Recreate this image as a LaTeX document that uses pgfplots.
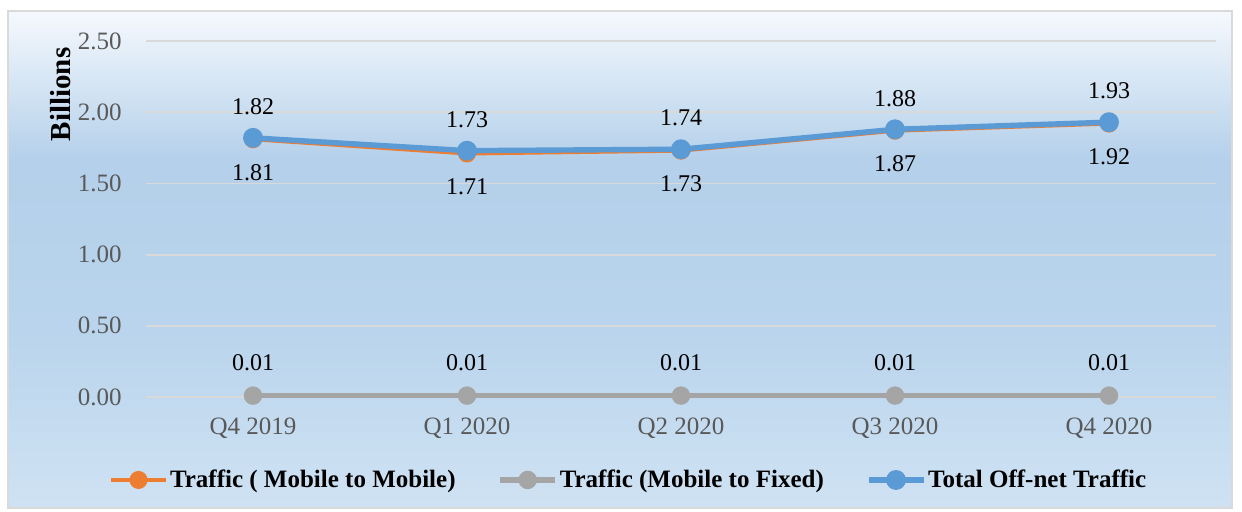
\documentclass[border=0pt]{standalone}
\usepackage{fontspec}
\setmainfont{Liberation Serif}
\usepackage{pgfplots}
\pgfplotsset{compat=1.18}
\definecolor{corange}{HTML}{ED7D31}
\definecolor{cgray}{HTML}{A5A5A5}
\definecolor{cblue}{HTML}{5B9BD5}
\definecolor{ctick}{HTML}{595959}
\definecolor{cgrid}{HTML}{D9D9D9}
\definecolor{bgtop}{HTML}{F5F9FD}
\definecolor{bgmid}{HTML}{B4D0EA}
\definecolor{bglow}{HTML}{B9D4EC}
\definecolor{bgbot}{HTML}{CFE2F3}
\pgfdeclareverticalshading{chartbg}{100bp}{color(0bp)=(bgbot); color(25bp)=(bgbot); color(43bp)=(bglow); color(60bp)=(bgmid); color(75bp)=(bgtop); color(100bp)=(bgtop)}

\begin{document}
\begin{tikzpicture}
\useasboundingbox (-73pt,-57pt) rectangle (548pt,198.5pt);
\shade[shading=chartbg] (-69pt,-55.5pt) rectangle (543pt,193pt);
\draw[cgrid, line width=0.8pt] (-69pt,-55.5pt) rectangle (543pt,193pt);
\begin{axis}[
  at={(0,0)}, anchor=south west,
  scale only axis, width=535pt, height=178pt,
  xmin=-0.5, xmax=4.5, ymin=0, ymax=2.5,
  xtick={0,1,2,3,4},
  xticklabels={Q4 2019, Q1 2020, Q2 2020, Q3 2020, Q4 2020},
  ytick={0,0.5,1,1.5,2,2.5},
  /pgf/number format/assume math mode=true,
  /pgf/number format/fixed,
  /pgf/number format/fixed zerofill,
  /pgf/number format/precision=2,
  axis line style={draw=none},
  major tick length=0pt,
  ymajorgrids, grid style={cgrid, line width=0.9pt},
  tick label style={font=\fontsize{12.5}{14}\selectfont, text=ctick},
  xticklabel style={anchor=center, yshift=-15.5pt},
  yticklabel style={anchor=east, inner sep=0pt, xshift=-12pt},
  ylabel={\textbf{Billions}},
  ylabel style={at={(axis description cs:-0.08,0.85)}, anchor=center, rotate=0, font=\fontsize{14.5}{16}\selectfont},
  legend columns=3,
  legend style={draw=none, fill=none, at={(axis description cs:0.452,-0.233)}, anchor=center,
    font=\fontsize{12.5}{14}\selectfont\bfseries,
    /tikz/every even column/.append style={column sep=19pt},
    /tikz/every odd column/.append style={column sep=-1pt}},
  legend image code/.code={\draw[mark repeat=2,mark phase=2] plot coordinates {(0pt,0pt) (13.75pt,0pt) (27.5pt,0pt)};},
]
\addplot[color=corange, line width=2pt, mark=*, mark size=3.5pt,
  nodes near coords,
  every node near coord/.style={anchor=center, yshift=-16.5pt, text=black, font=\fontsize{12}{14}\selectfont}]
  coordinates {(0,1.81) (1,1.71) (2,1.73) (3,1.87) (4,1.92)};
\addlegendentry{Traffic ( Mobile to Mobile)}
\addplot[color=cgray, line width=2.6pt, mark=*, mark size=3.3pt,
  nodes near coords,
  every node near coord/.style={anchor=center, yshift=16.5pt, text=black, font=\fontsize{12}{14}\selectfont}]
  coordinates {(0,0.01) (1,0.01) (2,0.01) (3,0.01) (4,0.01)};
\addlegendentry{Traffic (Mobile to Fixed)}
\addplot[color=cblue, line width=2.7pt, mark=*, mark size=3.6pt,
  nodes near coords,
  every node near coord/.style={anchor=center, yshift=15.5pt, text=black, font=\fontsize{12}{14}\selectfont}]
  coordinates {(0,1.82) (1,1.73) (2,1.74) (3,1.88) (4,1.93)};
\addlegendentry{Total Off-net Traffic}
\end{axis}
\end{tikzpicture}
\end{document}
